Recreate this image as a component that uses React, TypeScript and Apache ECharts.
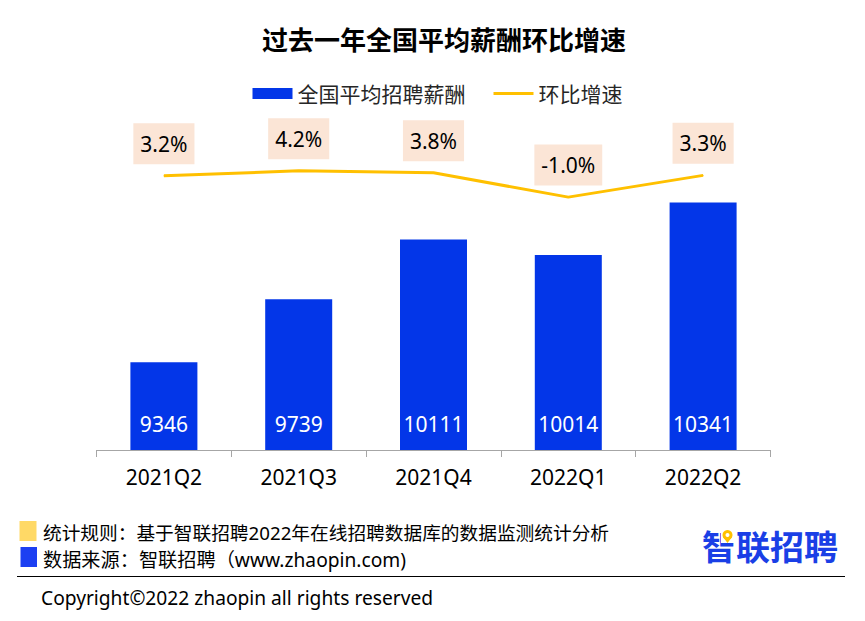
import React, { useEffect, useRef } from "react";
import * as echarts from "echarts";

const categories = ["2021Q2", "2021Q3", "2021Q4", "2022Q1", "2022Q2"];
const salaryValues = [9346, 9739, 10111, 10014, 10341];
const growthValues = [3.2, 4.2, 3.8, -1.0, 3.3];
const titleText = "过去一年全国平均薪酬环比增速";
const barName = "全国平均招聘薪酬";
const lineName = "环比增速";
const noteRule = "统计规则：基于智联招聘2022年在线招聘数据库的数据监测统计分析";
const noteSource = "数据来源：智联招聘（www.zhaopin.com)";
const copyrightText = "Copyright©2022 zhaopin all rights reserved";
const logoText = "智联招聘";

const FONT = "'Noto Sans', 'Noto Sans CJK SC', sans-serif";
const BLUE = "#0336E8";
const GOLD = "#FFC000";

export default function App() {
  const ref = useRef<HTMLDivElement>(null);
  useEffect(() => {
    if (!ref.current) return;
    const chart = echarts.init(ref.current, null, { renderer: "svg" });
    chart.setOption({
      animation: false,
      backgroundColor: "#ffffff",
      textStyle: { fontFamily: FONT },
      title: {
        text: titleText,
        left: 257,
        top: 22,
        textStyle: { fontSize: 26, fontWeight: "bold", color: "#000", fontFamily: FONT },
      },
      legend: {
        left: 247.5,
        top: 78,
        itemWidth: 40,
        itemHeight: 11,
        itemGap: 28,
        textStyle: { fontSize: 21, color: "#262626", fontFamily: FONT },
        data: [
          { name: barName, icon: "rect", itemStyle: { color: BLUE } },
          { name: lineName, icon: "path://M0 0H40V3H0Z", itemStyle: { color: GOLD } },
        ],
      },
      grid: { left: 96.5, right: 94.5, top: 100, bottom: 171 },
      xAxis: {
        type: "category",
        data: categories,
        axisLine: { onZero: false, lineStyle: { color: "#a6a6a6", width: 1 } },
        axisTick: { show: true, length: 7, lineStyle: { color: "#a6a6a6" } },
        axisLabel: { fontSize: 21, color: "#000", margin: 16, fontFamily: FONT },
      },
      yAxis: [
        { type: "value", min: 8800, max: 10980, show: false, splitLine: { show: false } },
        { type: "value", min: -51, max: 18.2, show: false, splitLine: { show: false } },
      ],
      series: [
        {
          name: barName,
          type: "bar",
          data: salaryValues,
          barWidth: 67,
          itemStyle: { color: BLUE },
          label: {
            show: true,
            position: "insideBottom",
            distance: 16,
            color: "#fff",
            fontSize: 21,
            fontFamily: FONT,
          },
        },
        {
          name: lineName,
          type: "line",
          yAxisIndex: 1,
          data: growthValues,
          symbol: "circle",
          symbolSize: 1,
          itemStyle: { color: GOLD },
          lineStyle: { color: GOLD, width: 3 },
          label: {
            show: true,
            position: "top",
            distance: 11,
            formatter: (p: any) => p.value.toFixed(1) + "%",
            color: "#000",
            fontSize: 21,
            lineHeight: 21,
            fontFamily: FONT,
            backgroundColor: "#FBE5D6",
            padding: [10, 7, 10, 7],
          },
        },
      ],
      graphic: [
        { type: "rect", shape: { x: 19.5, y: 521, width: 17, height: 20 }, style: { fill: "#FFD966" } },
        { type: "rect", shape: { x: 20.5, y: 547, width: 16.5, height: 20 }, style: { fill: "#1C3FF2" } },
        {
          type: "text",
          x: 43,
          y: 532,
          style: { text: noteRule, fontSize: 18.7, fill: "#000", fontFamily: FONT, verticalAlign: "middle" },
        },
        {
          type: "text",
          x: 43,
          y: 559,
          style: { text: noteSource, fontSize: 19.2, fill: "#000", fontFamily: FONT, verticalAlign: "middle" },
        },
        {
          type: "text",
          x: 702,
          y: 545,
          style: {
            text: logoText,
            fontSize: 34,
            fontWeight: "bold",
            fill: "#1A3FE6",
            fontFamily: "'Noto Sans CJK SC', sans-serif",
            verticalAlign: "middle",
          },
        },
        { type: "rect", shape: { x: 721, y: 529, width: 14, height: 14 }, style: { fill: "#ffffff" } },
        {
          type: "polygon",
          shape: { points: [[723, 537], [727.5, 543], [732, 537]] },
          style: { fill: GOLD },
        },
        {
          type: "circle",
          shape: { cx: 727.5, cy: 535, r: 5 },
          style: { fill: GOLD },
        },
        {
          type: "circle",
          shape: { cx: 727.5, cy: 535, r: 2 },
          style: { fill: "#ffffff" },
        },
        { type: "line", shape: { x1: 17, y1: 576.5, x2: 845, y2: 576.5 }, style: { stroke: "#000", lineWidth: 1.2 } },
        {
          type: "text",
          x: 41,
          y: 597,
          style: { text: copyrightText, fontSize: 19.2, fill: "#000", fontFamily: FONT, verticalAlign: "middle" },
        },
      ],
    });
    return () => chart.dispose();
  }, []);
  return (
    <div
      ref={ref}
      style={{ position: "absolute", left: 0, top: 0, width: 865, height: 621, background: "#fff" }}
    />
  );
}
